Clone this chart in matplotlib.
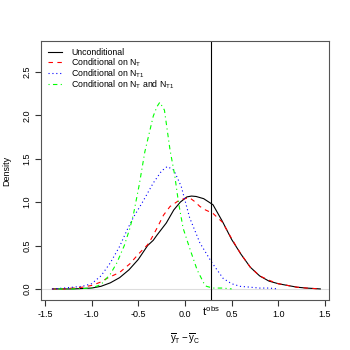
import numpy as np
import matplotlib
matplotlib.use('Agg')
import matplotlib.pyplot as plt
from matplotlib.transforms import blended_transform_factory

plt.rcParams['font.family'] = ['Liberation Sans', 'DejaVu Sans']
plt.rcParams['mathtext.fontset'] = 'custom'
plt.rcParams['mathtext.rm'] = 'Liberation Sans'
plt.rcParams['mathtext.it'] = 'Liberation Sans'

# 密度曲線
x_unc = [-1.42, -1.3, -1.2, -1.1, -1.0, -0.9, -0.8, -0.7, -0.6, -0.5, -0.4, -0.34, -0.3,
         -0.2, -0.12, -0.05, 0.02, 0.07, 0.12, 0.2, 0.3, 0.4, 0.5, 0.6, 0.7, 0.8, 0.9, 1.0,
         1.1, 1.2, 1.3, 1.45]
y_unc = [0.0, 0.0, 0.0, 0.005, 0.01, 0.03, 0.07, 0.13, 0.22, 0.34, 0.50, 0.56, 0.62,
         0.76, 0.91, 1.00, 1.06, 1.07, 1.065, 1.04, 0.97, 0.78, 0.57, 0.40, 0.25, 0.15, 0.09, 0.06,
         0.04, 0.02, 0.01, 0.0]

x_nt = [-1.42, -1.3, -1.2, -1.1, -1.0, -0.9, -0.84, -0.7, -0.59, -0.5, -0.4, -0.36, -0.3,
        -0.23, -0.16, -0.05, 0.05, 0.1, 0.16, 0.22, 0.3, 0.4, 0.5, 0.6, 0.7, 0.8, 0.9, 1.0,
        1.1, 1.2, 1.3, 1.45]
y_nt = [0.0, 0.0, 0.01, 0.02, 0.04, 0.08, 0.12, 0.19, 0.29, 0.40, 0.51, 0.58, 0.70,
        0.85, 0.95, 1.03, 1.05, 1.01, 0.95, 0.91, 0.87, 0.77, 0.58, 0.40, 0.25, 0.15, 0.10, 0.06,
        0.04, 0.02, 0.01, 0.0]

x_nt1 = [-1.42, -1.3, -1.2, -1.1, -1.0, -0.9, -0.8, -0.7, -0.62, -0.55, -0.46, -0.34, -0.25,
         -0.19, -0.12, -0.04, 0.05, 0.16, 0.29, 0.41, 0.5, 0.59, 0.7, 0.8, 0.9, 1.0]
y_nt1 = [0.0, 0.01, 0.02, 0.03, 0.06, 0.15, 0.30, 0.49, 0.68, 0.83, 0.99, 1.22, 1.36,
         1.41, 1.37, 1.18, 0.82, 0.53, 0.30, 0.12, 0.06, 0.03, 0.02, 0.01, 0.01, 0.0]

x_both = [-1.4, -1.2, -1.0, -0.9, -0.8, -0.73, -0.65, -0.59, -0.55, -0.49, -0.43, -0.34,
          -0.3, -0.27, -0.22, -0.16, -0.11, -0.07, -0.02, 0.05, 0.13, 0.2, 0.23, 0.3, 0.4, 0.5]
y_both = [0.0, 0.0, 0.01, 0.05, 0.17, 0.30, 0.50, 0.70, 0.87, 1.20, 1.58, 1.99,
          2.10, 2.15, 2.06, 1.60, 1.31, 1.00, 0.70, 0.47, 0.22, 0.07, 0.03, 0.01, 0.01, 0.0]

t_obs = 0.28

fig = plt.figure(figsize=(3.5, 3.5), dpi=100)
ax = fig.add_axes([0.117, 0.143, 0.823, 0.74])

ax.axhline(0, color='#dddddd', lw=0.8, zorder=0)
ax.plot(x_unc, y_unc, color='black', lw=0.8, label='Unconditional')
ax.plot(x_nt, y_nt, color='red', lw=0.8, dashes=(4, 4), label='Conditional on N$_T$')
ax.plot(x_nt1, y_nt1, color='blue', lw=0.8, dashes=(1, 2.5), label='Conditional on N$_{T1}$')
ax.plot(x_both, y_both, color='#00ff00', lw=0.8, dashes=(1, 3, 4, 3),
        label='Conditional on N$_T$ and N$_{T1}$')
ax.axvline(t_obs, color='black', lw=0.8)

ax.set_xlim(-1.543, 1.543)
ax.set_ylim(-0.127, 2.857)
ax.set_xticks([-1.5, -1.0, -0.5, 0.0, 0.5, 1.0, 1.5])
ax.set_yticks([0.0, 0.5, 1.0, 1.5, 2.0, 2.5])
ax.set_xticklabels(['-1.5', '-1.0', '-0.5', '0.0', '0.5', '1.0', '1.5'])
ax.set_yticklabels(['0.0', '0.5', '1.0', '1.5', '2.0', '2.5'], rotation=90, va='center')
ax.tick_params(direction='out', length=4, width=0.8, labelsize=6.5, pad=3, color='#333333')
for s in ax.spines.values():
    s.set_linewidth(0.8)
    s.set_color('#555555')

trans = blended_transform_factory(ax.transData, ax.transAxes)
ax.text(t_obs, -0.015, r'$t^{\mathrm{obs}}$', transform=trans, ha='center', va='top', fontsize=8)

ax.set_xlabel(r'$\overline{y}_T-\overline{y}_C$', fontsize=7, labelpad=9)
ax.set_ylabel('Density', fontsize=6.5, labelpad=8)

ax.legend(loc='upper left', frameon=False, fontsize=6.3, handlelength=1.5,
          labelspacing=-0.15, borderaxespad=0.45, handletextpad=1.1,
          bbox_to_anchor=(0.0, 1.0))

fig.savefig('out.png', dpi=100)
